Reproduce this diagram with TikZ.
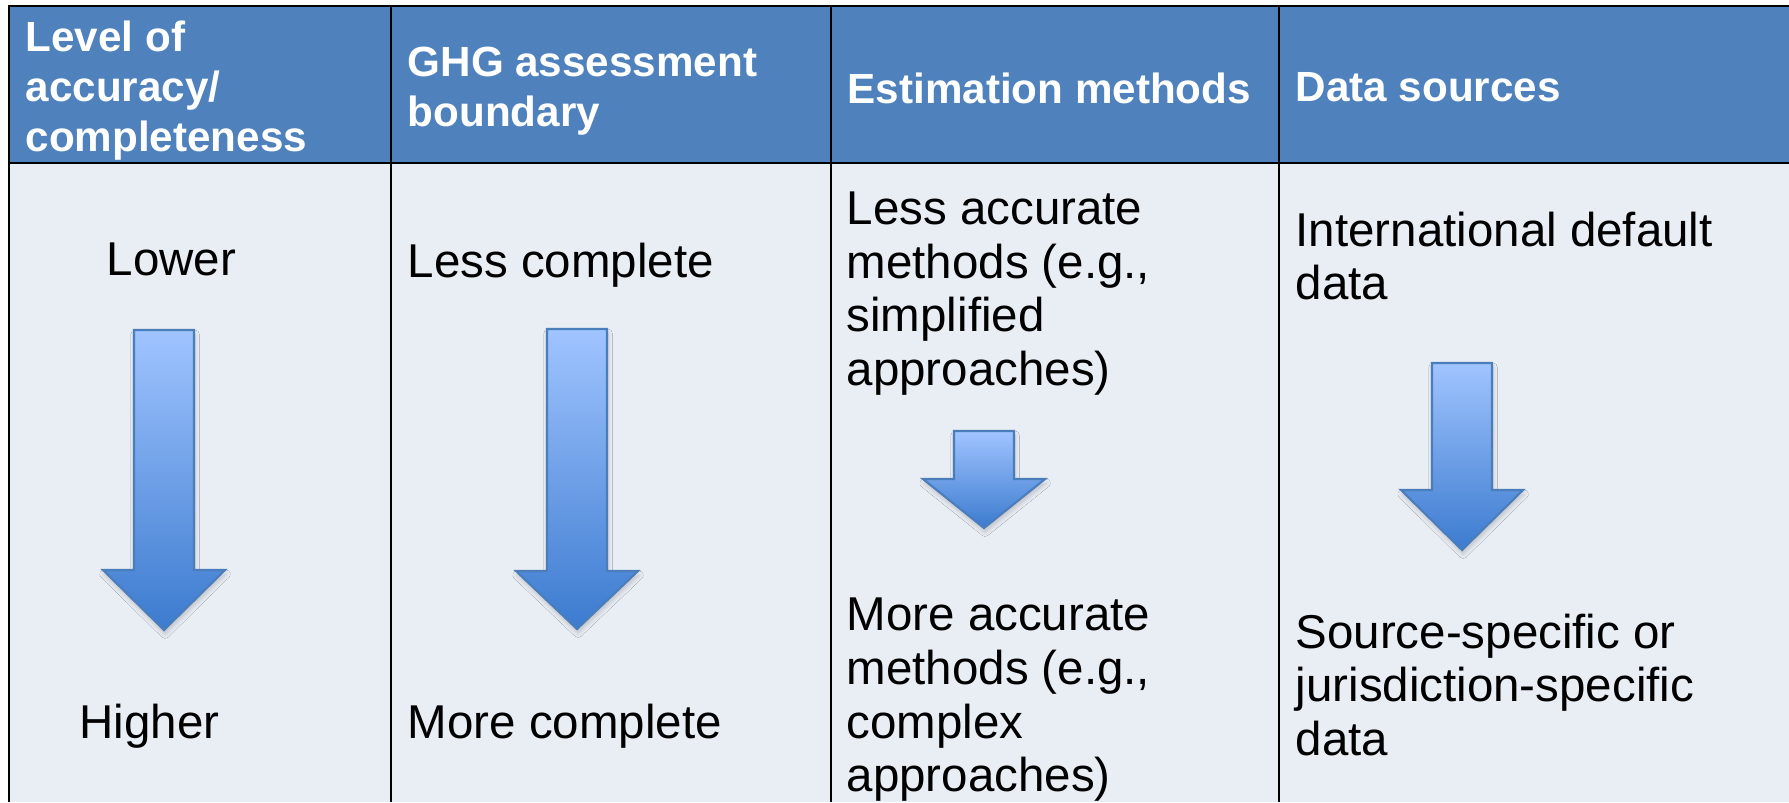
\documentclass[tikz,border=0pt]{standalone}
\usepackage{fontspec}
\setmainfont{Liberation Sans}
\usetikzlibrary{calc,shadows.blur,positioning}

\definecolor{headblue}{HTML}{4F81BD}
\definecolor{bodygray}{HTML}{E9EDF4}
\definecolor{arrowtop}{HTML}{A0C4FF}
\definecolor{arrowbot}{HTML}{3C7BCF}
\definecolor{arrowline}{HTML}{4A7EBB}

% block arrow pointing down: centre x, top, head, tip
\newcommand{\downblock}[4]{%
  \path[down] ({#1-30},#2) -- ({#1+30},#2) -- ({#1+30},#3) -- ({#1+61},#3)
    -- (#1,#4) -- ({#1-61},#3) -- ({#1-30},#3) -- cycle;}

\begin{document}
\begin{tikzpicture}[x=0.01cm, y=-0.01cm,
    head/.style={anchor=north west, inner sep=0pt, align=left, text=white,
      font=\fontsize{12}{14.2}\selectfont\bfseries},
    cell/.style={anchor=north west, inner sep=0pt, align=left,
      font=\fontsize{13.5}{15.3}\selectfont},
    rule/.style={line width=0.7pt},
    down/.style={draw=arrowline, line width=0.6pt, top color=arrowtop, bottom color=arrowbot,
      blur shadow={shadow xshift=0.3pt, shadow yshift=-1.2pt, shadow blur radius=1.2pt,
        shadow opacity=18}}]
    \useasboundingbox (0,0) rectangle (1789,802);

    \fill [bodygray] (9,163) rectangle (1789,802);
    \fill [headblue] (9,6) rectangle (1789,163);
    \draw [rule] (1789,6) -- (9,6) -- (9,802);
    \draw [rule] (9,163) -- (1789,163);
    \foreach \x in {391,831,1279}
        \draw [rule] (\x,6) -- (\x,802);

    \node [head] (h1) at (25,20) {Level of\\accuracy/\\completeness};
    \node [head] (h2) at (407,46) {GHG assessment\\boundary};
    \node [head] (h3) at (847,72) {Estimation methods};
    \node [head] (h4) at (1295,72) {Data sources};

    \node [cell] (lower) at (106,242) {Lower};
    \node [cell] (higher) at (79,703) {Higher};
    \node [cell] (lesscomp) at (407,242) {Less complete};
    \node [cell] (morecomp) at (407,703) {More complete};
    \node [cell] (lessacc) at (846,191) {Less accurate\\methods (e.g.,\\simplified\\approaches)};
    \node [cell] (moreacc) at (846,597) {More accurate\\methods (e.g.,\\complex\\approaches)};
    \node [cell] (intl) at (1295,211) {International default\\data};
    \node [cell] (srcspec) at (1295,613) {Source-specific or\\jurisdiction-specific\\data};

    \downblock{164}{330}{570}{630}
    \downblock{577}{329}{571}{629}
    \downblock{984}{431}{479}{528}
    \downblock{1462}{363}{490}{550}
\end{tikzpicture}
\end{document}
